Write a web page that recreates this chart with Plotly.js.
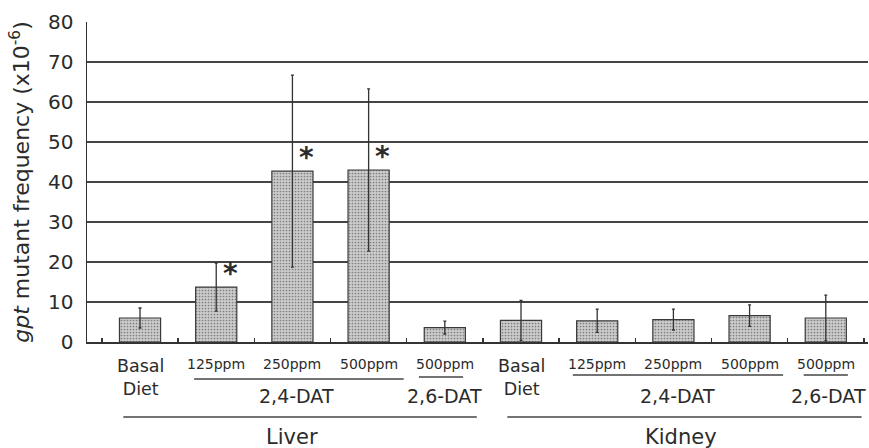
<!DOCTYPE html>
<html>
<head>
<meta charset="utf-8">
<script src="https://cdn.plot.ly/plotly-3.0.1.min.js"></script>
<style>html,body{margin:0;padding:0;background:#fff;}#chart{width:869px;height:448px;}</style>
</head>
<body>
<div id="chart"></div>
<script>
// ---- data ----
const categories = ["L-Basal","L-24-125","L-24-250","L-24-500","L-26-500","K-Basal","K-24-125","K-24-250","K-24-500","K-26-500"];
const doseLabels = ["Basal<br>Diet","125ppm","250ppm","500ppm","500ppm","Basal<br>Diet","125ppm","250ppm","500ppm","500ppm"];
const values = [6.0, 13.7, 42.7, 43.0, 3.6, 5.4, 5.3, 5.6, 6.6, 6.0];
const errors = [2.5, 6.0, 24.0, 20.3, 1.6, 5.0, 2.9, 2.6, 2.7, 5.7];
const significant = [false, true, true, true, false, false, false, false, false, false];
const compoundLabels = ["2,4-DAT","2,6-DAT","2,4-DAT","2,6-DAT"];
const compoundCenters = [2.05, 3.99, 7.06, 9.03];
const tissueLabels = ["Liver","Kidney"];
const tissueCenters = [2.0, 7.1];
const yTicks = [0,10,20,30,40,50,60,70,80];

const fontFam = "DejaVu Sans, Verdana, sans-serif";
const ink = "#2b2b2b";

const trace = {
  type: "bar",
  x: categories,
  y: values,
  width: 0.54,
  marker: {
    color: "#c6c6c6",
    line: {color: "#3a3a3a", width: 1.2},
    pattern: {shape: ".", fgcolor: "#7e7e7e", bgcolor: "#cbcbcb", size: 3, solidity: 0.25}
  },
  error_y: {type: "data", array: errors, visible: true, color: "#333", thickness: 1.3, width: 1.5},
  hoverinfo: "skip"
};

const annotations = [];
categories.forEach((c, i) => {
  const isBasal = doseLabels[i].indexOf("Basal") === 0;
  annotations.push({
    x: c, xref: "x", y: 0, yref: "paper", yanchor: "middle", xanchor: "center",
    yshift: isBasal ? -35 : -22,
    text: doseLabels[i], showarrow: false,
    font: {family: fontFam, size: isBasal ? 17.5 : 14, color: ink}
  });
  if (significant[i]) {
    annotations.push({
      x: c, xref: "x", y: values[i], yref: "y", yanchor: "bottom", xanchor: "center",
      xshift: 14, yshift: -5, text: "<b>*</b>", showarrow: false,
      font: {family: fontFam, size: 28, color: ink}
    });
  }
});
compoundLabels.forEach((t, i) => {
  annotations.push({
    x: compoundCenters[i], xref: "x", y: 0, yref: "paper", yanchor: "middle", xanchor: "center",
    yshift: -54, text: t, showarrow: false,
    font: {family: fontFam, size: 19, color: ink}
  });
});
tissueLabels.forEach((t, i) => {
  annotations.push({
    x: tissueCenters[i], xref: "x", y: 0, yref: "paper", yanchor: "middle", xanchor: "center",
    yshift: -95, text: t, showarrow: false,
    font: {family: fontFam, size: 21, color: ink}
  });
});

function hline(x0, x1, ypx) {
  const y = (342 - ypx) / 320;
  return {type: "line", xref: "x", yref: "paper", x0: x0, x1: x1, y0: y, y1: y,
          line: {color: "#444", width: 1.3}};
}
const shapes = [
  hline(0.71, 3.46, 379), hline(3.66, 4.24, 377),
  hline(-0.22, 4.42, 417), hline(4.82, 9.47, 417),
  hline(5.68, 8.44, 375), hline(8.71, 9.29, 375)
];

const layout = {
  width: 869, height: 448,
  margin: {l: 87, r: 1, t: 22, b: 106},
  paper_bgcolor: "#fff", plot_bgcolor: "#fff",
  showlegend: false,
  xaxis: {
    type: "category", range: [-0.696, 9.554],
    showticklabels: false, ticks: "inside", ticklen: 4, tickwidth: 1.5, tickcolor: "#333",
    tickson: "boundaries",
    showline: true, linecolor: "#333", linewidth: 1.5, showgrid: false, zeroline: false
  },
  yaxis: {
    range: [0, 80], tickvals: yTicks, ticktext: yTicks.map(String),
    showline: true, linecolor: "#333", linewidth: 1.5,
    showgrid: true, gridcolor: "#444", gridwidth: 1.5, zeroline: false,
    ticks: "", ticklabelstandoff: 8,
    tickfont: {family: fontFam, size: 20, color: ink},
    title: {text: "<i>gpt</i> mutant frequency (x10<sup>-6</sup>)", standoff: 12,
            font: {family: fontFam, size: 22, color: ink}}
  },
  annotations: annotations,
  shapes: shapes
};

Plotly.newPlot("chart", [trace], layout, {staticPlot: true, displayModeBar: false});
</script>
</body>
</html>
